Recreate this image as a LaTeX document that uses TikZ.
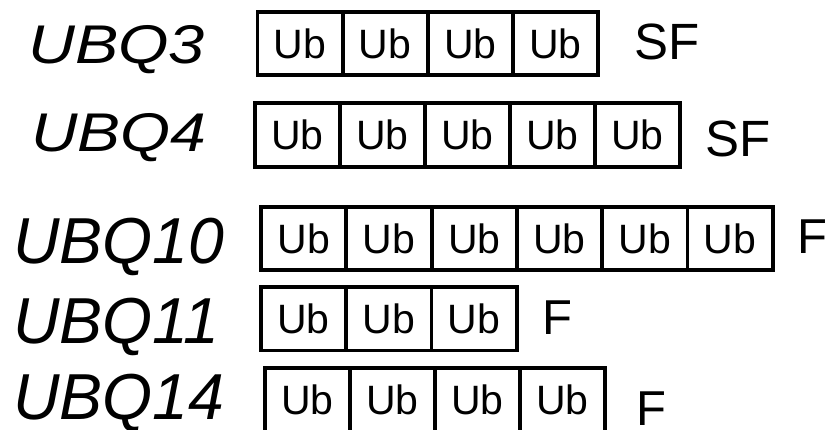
\documentclass[tikz,border=0pt]{standalone}
\usepackage{fontspec}
\usepackage{graphicx}
\setmainfont{Liberation Sans}
\begin{document}
\begin{tikzpicture}[x=1pt,y=-1pt,
  ubox/.style={draw, line width=3.8pt, inner sep=0pt, minimum width=85pt,
    minimum height=63.5pt, font=\fontsize{41}{41}\selectfont},
  gene/.style={anchor=base west, inner sep=0pt},
  tag/.style={anchor=base west, inner sep=0pt},
]
\useasboundingbox (0,0) rectangle (831,430);

% gene names
\node[gene] (g3)  at (28,63.3)  {\scalebox{1.19}[1]{\fontsize{54.5}{54.5}\selectfont\itshape UBQ3}};
\node[gene] (g4)  at (31,151.7) {\scalebox{1.18}[1]{\fontsize{54.5}{54.5}\selectfont\itshape UBQ4}};
\node[gene] (g10) at (13,263.3) {\scalebox{0.99}[1]{\fontsize{65}{65}\selectfont\itshape UBQ10}};
\node[gene] (g11) at (13,343.3) {\scalebox{0.99}[1]{\fontsize{65}{65}\selectfont\itshape UBQ11}};
\node[gene] (g14) at (13,420)   {\scalebox{0.99}[1]{\fontsize{65}{65}\selectfont\itshape UBQ14}};

% ubiquitin repeat units, one row per gene
% #1 row name, #2 left x, #3 vertical centre, #4 number of units, #5 unit width
\newcommand{\ubunits}[5]{%
  \foreach \k in {1,...,#4}{
    \node[ubox, minimum width=#5pt] (#1u\k) at ({#2+(\k-0.5)*#5}, #3) {Ub};
  }%
}
\ubunits{a}{257.5}{43.6}{4}{85.1}
\ubunits{b}{255}{135}{5}{85}
\ubunits{c}{261}{238.5}{6}{85.3}
\ubunits{d}{261}{318.8}{3}{85.2}
\ubunits{e}{265}{400}{4}{85}

% fusion type
\node[tag, font=\fontsize{51}{51}\selectfont] (t3)  at (634,60)    {SF};
\node[tag, font=\fontsize{51}{51}\selectfont] (t4)  at (705.5,156.7) {SF};
\node[tag, font=\fontsize{49}{49}\selectfont] (t10) at (797.7,253.3) {F};
\node[tag, font=\fontsize{49}{49}\selectfont] (t11) at (542.7,335)  {F};
\node[tag, font=\fontsize{49}{49}\selectfont] (t14) at (636,425.5)  {F};
\end{tikzpicture}
\end{document}
